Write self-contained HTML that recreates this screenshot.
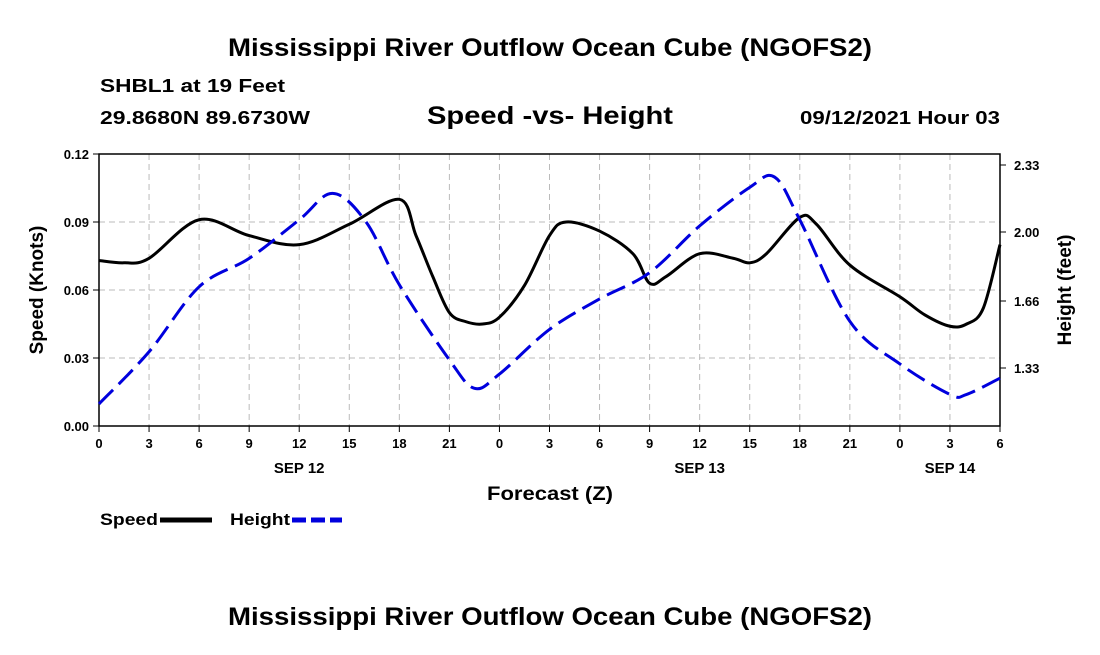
<!DOCTYPE html>
<html><head><meta charset="utf-8"><style>
body{margin:0;background:#fff;width:1100px;height:650px;overflow:hidden;font-family:"Liberation Sans",Arial,sans-serif}
text{font-family:"Liberation Sans",Arial,sans-serif;font-weight:bold;fill:#000}
</style></head><body>
<svg id="chart" width="1100" height="650" xmlns="http://www.w3.org/2000/svg">
<text x="228" y="56" font-size="25" textLength="644" lengthAdjust="spacingAndGlyphs">Mississippi River Outflow Ocean Cube (NGOFS2)</text>
<text x="100" y="92" font-size="18" textLength="185" lengthAdjust="spacingAndGlyphs">SHBL1 at 19 Feet</text>
<text x="100" y="124" font-size="18" textLength="210" lengthAdjust="spacingAndGlyphs">29.8680N  89.6730W</text>
<text x="427" y="124" font-size="25" textLength="246" lengthAdjust="spacingAndGlyphs">Speed -vs- Height</text>
<text x="800" y="124" font-size="18" textLength="200" lengthAdjust="spacingAndGlyphs">09/12/2021 Hour 03</text>
<g id="grid"></g><g id="axes"></g><g id="series"></g>
<text x="487" y="500" font-size="19" textLength="126" lengthAdjust="spacingAndGlyphs">Forecast (Z)</text>
<text transform="translate(43,290) rotate(-90)" font-size="19" text-anchor="middle">Speed (Knots)</text>
<text transform="translate(1071,290) rotate(-90)" font-size="19" text-anchor="middle">Height (feet)</text>
<g><text x="100" y="525" font-size="17" textLength="58" lengthAdjust="spacingAndGlyphs">Speed</text><line x1="160" y1="520" x2="212" y2="520" stroke="#000" stroke-width="5"/></g>
<g><text x="230" y="525" font-size="17" textLength="60" lengthAdjust="spacingAndGlyphs">Height</text><line x1="292" y1="520" x2="342" y2="520" stroke="#0000dd" stroke-width="5" stroke-dasharray="14,5"/></g>
<text x="228" y="625" font-size="25" textLength="644" lengthAdjust="spacingAndGlyphs">Mississippi River Outflow Ocean Cube (NGOFS2)</text>
</svg>
<script>
const hourTicks=[0,3,6,9,12,15,18,21,24,27,30,33,36,39,42,45,48,51,54];
const hourTickLabels=["0","3","6","9","12","15","18","21","0","3","6","9","12","15","18","21","0","3","6"];
const dateLabels=["SEP 12","SEP 13","SEP 14"];
const dateLabelHours=[12,36,51];
const speedTicks=[0,0.03,0.06,0.09,0.12];
const heightTicks=[1.33,1.66,2.00,2.33];
const speedHours=[0,1.5,3,6,9,12,15,18,19,20,21,22,23,24,25.5,27,28,30,32,33,34,36,38,39,40,42,43,45,48,49.5,51,52,53,54];
const speedValues=[0.073,0.072,0.074,0.091,0.084,0.080,0.089,0.100,0.084,0.066,0.050,0.046,0.045,0.048,0.062,0.084,0.090,0.086,0.076,0.063,0.066,0.076,0.074,0.072,0.076,0.092,0.089,0.071,0.057,0.049,0.044,0.045,0.052,0.080];
const heightHours=[0,3,6,9,12,14,16,18,21,22.5,24,27,30,33,36,39,40.5,42,45,48,51,52,54];
const heightValues=[1.153,1.41,1.73,1.87,2.06,2.19,2.05,1.74,1.37,1.23,1.30,1.52,1.67,1.80,2.03,2.22,2.27,2.06,1.56,1.35,1.20,1.20,1.28];
const NS="http://www.w3.org/2000/svg";
const L=99,R=1000,T=154,B=426;
const xs=h=>L+(R-L)*h/54;
const ySpeed=v=>B-(B-T)*v/0.12;
const yHeight=f=>368-(f-1.33)*203;
function mk(tag,attrs,parent){const e=document.createElementNS(NS,tag);for(const k in attrs)e.setAttribute(k,attrs[k]);document.getElementById(parent).appendChild(e);return e;}
hourTicks.forEach((h,i)=>{
 if(i>0&&i<hourTicks.length-1){const g=mk('line',{x1:xs(h),x2:xs(h),y1:T,y2:B,stroke:'#bbb','stroke-dasharray':'6,4'},'grid');
 
 }
 const t=mk('line',{x1:xs(h),x2:xs(h),y1:B,y2:B+6,stroke:'#000'},'axes');
 
 
 const lb=mk('text',{x:xs(h),y:B+22,'font-size':13,'text-anchor':'middle'},'axes');lb.textContent=hourTickLabels[i];
 
 
});
dateLabels.forEach((d,i)=>{const lb=mk('text',{x:xs(dateLabelHours[i]),y:B+47,'font-size':15,'text-anchor':'middle'},'axes');lb.textContent=d;
 
 });
speedTicks.forEach(v=>{
 if(v>0&&v<0.12){const g=mk('line',{x1:L,x2:R,y1:ySpeed(v),y2:ySpeed(v),stroke:'#bbb','stroke-dasharray':'6,4'},'grid');
 
 }
 const t=mk('line',{x1:L-6,x2:L,y1:ySpeed(v),y2:ySpeed(v),stroke:'#000'},'axes');
 
 
 const lb=mk('text',{x:L-10,y:ySpeed(v)+5,'font-size':13,'text-anchor':'end'},'axes');lb.textContent=v.toFixed(2);
 
 
});
heightTicks.forEach(f=>{
 const t=mk('line',{x1:R,x2:R+6,y1:yHeight(f),y2:yHeight(f),stroke:'#000'},'axes');
 
 
 const lb=mk('text',{x:R+14,y:yHeight(f)+5,'font-size':13},'axes');lb.textContent=f.toFixed(2);
 
 
});
const fr=mk('rect',{x:L,y:T,width:R-L,height:B-T,fill:'none',stroke:'#000','stroke-width':1.5},'axes');


function smooth(pts){let d=`M${pts[0][0]},${pts[0][1]}`;for(let i=0;i<pts.length-1;i++){const p0=pts[Math.max(0,i-1)],p1=pts[i],p2=pts[i+1],p3=pts[Math.min(pts.length-1,i+2)];
 d+=` C${p1[0]+(p2[0]-p0[0])/6},${p1[1]+(p2[1]-p0[1])/6} ${p2[0]-(p3[0]-p1[0])/6},${p2[1]-(p3[1]-p1[1])/6} ${p2[0]},${p2[1]}`;}return d;}
const sp=mk('path',{d:smooth(speedHours.map((h,i)=>[xs(h),ySpeed(speedValues[i])])),fill:'none',stroke:'#000','stroke-width':3},'series');


const hp=mk('path',{d:smooth(heightHours.map((h,i)=>[xs(h),yHeight(heightValues[i])])),fill:'none',stroke:'#0000dd','stroke-width':3,'stroke-dasharray':'20,8'},'series');


</script>
</body></html>
